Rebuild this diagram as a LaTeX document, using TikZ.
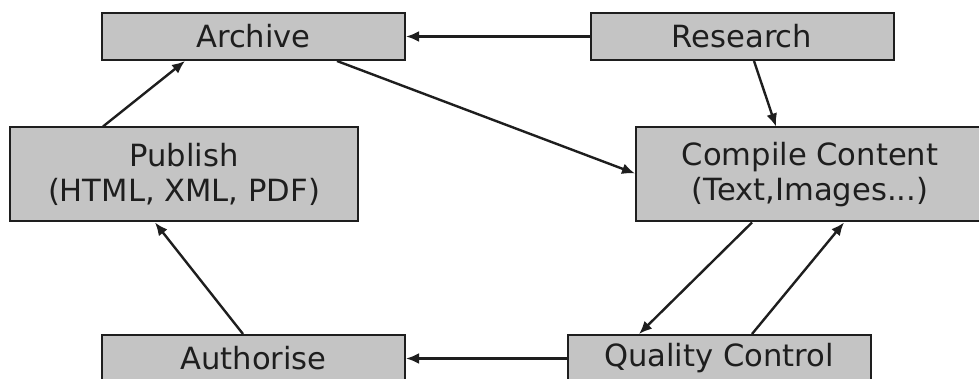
\documentclass[tikz,border=0pt]{standalone}
\usepackage{fontspec}
\setmainfont{DejaVu Sans}
\usetikzlibrary{arrows.meta}
\definecolor{boxgray}{HTML}{C4C4C4}
\definecolor{inkgray}{HTML}{1E1E1E}
\begin{document}
\begin{tikzpicture}[x=0.5pt, y=-0.5pt,
	stage/.style = {draw=inkgray, fill=boxgray, line width=1pt, inner sep=0pt,
		align=center, text=inkgray, font=\fontsize{15.3}{17.5}\selectfont},
	small/.style = {stage, minimum width=151.5pt, minimum height=23.5pt},
	wide/.style = {stage, minimum width=174pt, minimum height=47pt},
	flow/.style = {draw=inkgray, line width=1.2pt, -{Latex[length=6.5pt, width=5.5pt]}}]

	\useasboundingbox (0,0) rectangle (979,379);

	\node[small] (archive) at (253.5, 36.5) {Archive};
	\node[small] (research) at (742, 36.5) {Research};
	\node[wide] (publish) at (184, 174.5) {Publish\\(HTML, XML, PDF)};
	\node[wide] (compile) at (810, 174.5) {Compile Content\\(Text,Images...)};
	\node[small] (authorise) at (253.5, 358.5) {Authorise};
	\node[small] (quality) at (719, 358.5) {Quality Control};

	\draw[flow] (research.west) -- (archive.east);
	\draw[flow] ([xshift=41.75pt]archive.south) -- ([yshift=0.5pt]compile.west);
	\draw[flow] ([xshift=6pt]research.south) -- ([xshift=-17pt]compile.north);
	\draw[flow] ([xshift=-40.5pt]publish.north) -- ([xshift=-34.25pt]archive.south);
	\draw[flow] ([xshift=-5.25pt]authorise.north) -- ([xshift=-14.5pt]publish.south);
	\draw[flow] (quality.west) -- (authorise.east);
	\draw[flow] ([xshift=-29pt]compile.south) -- ([xshift=-40pt]quality.north);
	\draw[flow] ([xshift=16.5pt]quality.north) -- ([xshift=17pt]compile.south);
\end{tikzpicture}
\end{document}
